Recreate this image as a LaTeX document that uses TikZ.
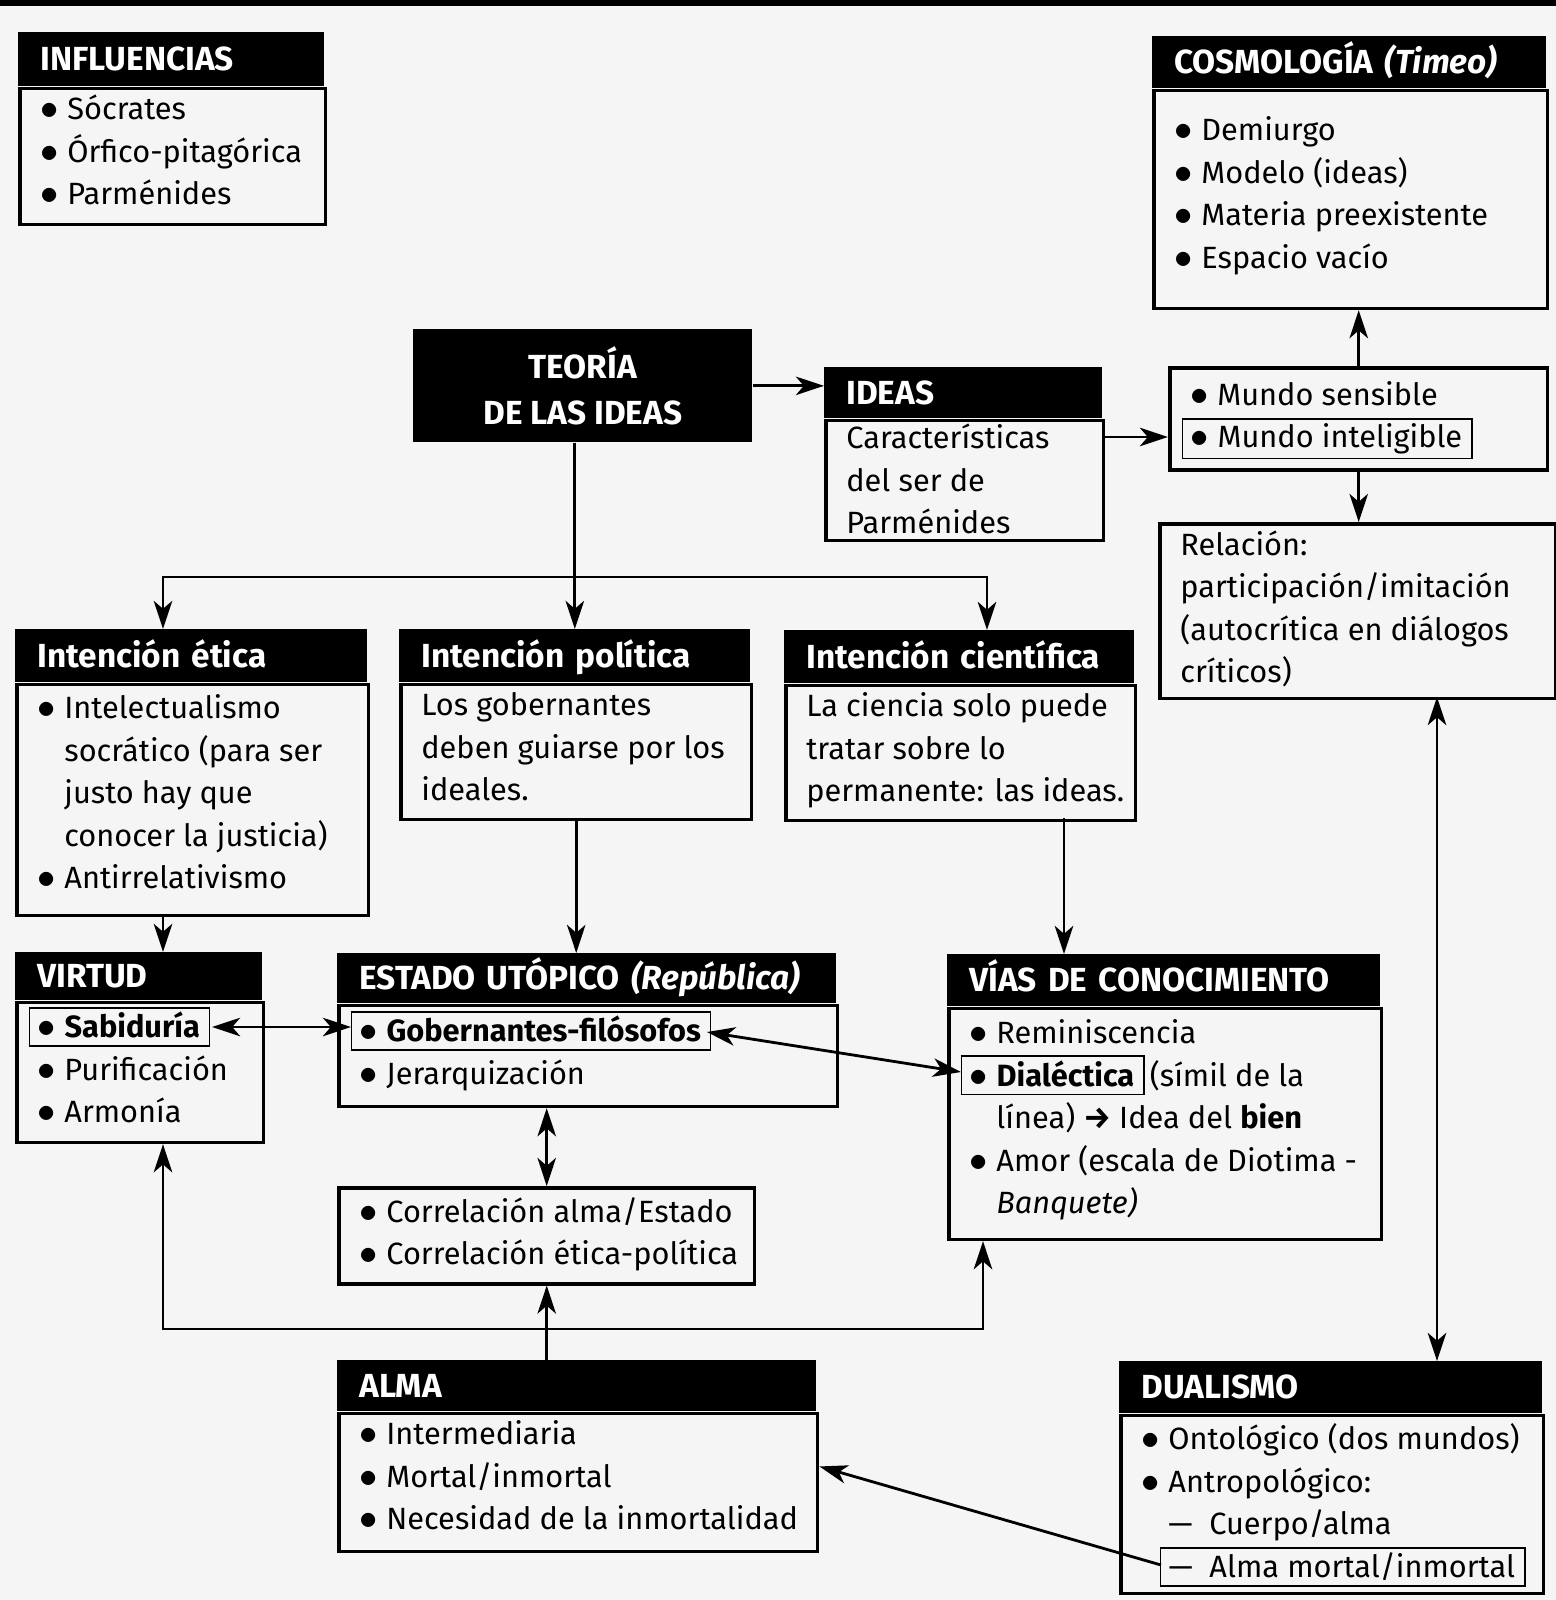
\documentclass[tikz,border=0pt]{standalone}
\usepackage{fontspec}
\setmainfont{Fira Sans}
\usetikzlibrary{arrows.meta}

\newcommand\bodyFont{\fontsize{17.5}{24.2}\selectfont}
\newcommand\titleFont{\fontsize{19}{26}\selectfont\bfseries}
\newcommand\bu{\makebox[0.88em][l]{\fontsize{22}{0}\selectfont$\bullet$}}
\newcommand\bl{\strut\bu}
\newcommand\hg{\strut\hspace*{0.88em}}
\newcommand\marked[1]{\strut\hspace*{-5pt}\smash{\fbox{\hspace*{2.1pt}\rule[-2.2pt]{0pt}{14.7pt}#1\hspace*{3pt}}}}
\setlength\fboxrule{1pt}
\setlength\fboxsep{2pt}

\begin{document}
\begin{tikzpicture}[x=0.02cm, y=-0.02cm,
    titleBar/.style={fill=black, text=white, anchor=north west, inner xsep=0.44cm, inner ysep=0pt, align=left, font=\titleFont, text height=13.1pt, text depth=0pt},
    frame/.style={draw, line width=2pt, anchor=north west, inner sep=0pt},
    textBlock/.style={anchor=north west, inner xsep=0.44cm, align=left, font=\bodyFont},
    link/.style={line width=1.6pt, -{Stealth[length=16pt, width=10.5pt, inset=4.5pt]}},
    dlink/.style={line width=1.6pt, {Stealth[length=16pt, width=10.5pt, inset=4.5pt]}-{Stealth[length=16pt, width=10.5pt, inset=4.5pt]}},
    bar/.style={line width=1.6pt, line cap=rect}]
    \def\conceptBox(#1)[#2,#3,#4,#5,#6,#7]#8#9{% Box with a black title bar. Arguments are name, x, y, width, title height, body height, text offset
        \node[titleBar, text width=#4cm-0.88cm, minimum height=#5cm] (#1Title) at (#2,#3) {#8};
        \node[frame, minimum width=#4cm, minimum height=#6cm] (#1) at (#1Title.south west) {};
        \node[textBlock, inner ysep=#7cm] (#1Text) at (#1.north west) {#9};
    }
    \def\plainBox(#1)[#2,#3,#4,#5,#6]#7{% Box without title. Arguments are name, x, y, width, height, text offset
        \node[frame, minimum width=#4cm, minimum height=#5cm] (#1) at (#2,#3) {};
        \node[textBlock, inner ysep=#6cm] (#1Text) at (#1.north west) {#7};
    }
    \useasboundingbox (0,0) rectangle (1556,1600);
    \fill[black!4] (0,0) rectangle (1556,1600);
    \fill (0,0) rectangle (1556,6);
    % Top row
    \conceptBox(influ)[18,32,6.12,1.08,2.72,0.06]{INFLUENCIAS}{\bl Sócrates\\ \bl Órfico-pitagórica\\ \bl Parménides}
    \conceptBox(cosmo)[1152,36,7.88,1.04,4.36,0.44]{COSMOLOGÍA \textit{(Timeo)}}{\bl Demiurgo\\ \bl Modelo (ideas)\\ \bl Materia preexistente\\ \bl Espacio vacío}
    \node[fill=black, text=white, anchor=north west, minimum width=6.78cm, minimum height=2.26cm, align=center, font=\titleFont] (teoria) at (413,329) {TEORÍA\\DE LAS IDEAS};
    \conceptBox(ideas)[824,367,5.56,1.02,2.40,0]{IDEAS}{\strut Características\\ del ser de\\ Parménides}
    \plainBox(mundo)[1168,366,7.56,2.04,0.18]{\bl Mundo sensible\\ \marked{\bu Mundo inteligible}}
    \plainBox(relac)[1158,522,7.92,3.50,0.06]{\strut Relación:\\ participación/imitación\\ (autocrítica en diálogos\\ críticos)}
    % Intentions
    \conceptBox(etica)[15,629,7.04,1.06,4.62,0.12]{Intención ética}{\bl Intelectualismo\\ \hg socrático (para ser\\ \hg justo hay que\\ \hg conocer la justicia)\\ \bl Antirrelativismo}
    \conceptBox(politica)[399,629,7.02,1.06,2.70,0.06]{Intención política}{\strut Los gobernantes\\ deben guiarse por los\\ ideales.}
    \conceptBox(cientifica)[784,630,7.00,1.06,2.70,0.06]{Intención científica}{\strut La ciencia solo puede\\ tratar sobre lo\\ permanente: las ideas.}
    % Second row
    \conceptBox(virtud)[15,952,4.94,0.96,2.80,0.14]{VIRTUD}{\marked{\bu\textbf{Sabiduría}}\\ \bl Purificación\\ \bl Armonía}
    \conceptBox(estado)[337,953,9.98,1.00,2.02,0.16]{ESTADO UTÓPICO \textit{(República)}}{\marked{\bu\textbf{Gobernantes-filósofos}}\\ \bl Jerarquización}
    \conceptBox(vias)[947,954,8.66,1.04,4.62,0.14]{VÍAS DE CONOCIMIENTO}{\bl Reminiscencia\\ \marked{\bu\textbf{Dialéctica}}\,(símil de la\\ \hg línea) \textbf{→} Idea del \textbf{bien}\\ \bl Amor (escala de Diotima -\\ \hg\textit{Banquete)}}
    \plainBox(correl)[337,1186,8.32,1.92,0.12]{\bl Correlación alma/Estado\\ \bl Correlación ética-política}
    % Bottom row
    \conceptBox(alma)[337,1360,9.58,1.02,2.76,0.06]{ALMA}{\bl Intermediaria\\ \bl Mortal/inmortal\\ \bl Necesidad de la inmortalidad}
    \conceptBox(dual)[1119,1361,8.46,1.04,3.56,0.12]{DUALISMO}{\bl Ontológico (dos mundos)\\ \bl Antropológico:\\ \hg\makebox[1.33em][l]{—}Cuerpo/alma\\ \hg\marked{\makebox[1.33em][l]{—}Alma mortal/inmortal}}
    % Ends on the framed items
    \coordinate (intelW) at (1182,437);
    \coordinate (sabiE) at (212,1027);
    \coordinate (goberW) at (351,1027);
    \coordinate (goberE) at (707,1032);
    \coordinate (dialW) at (961,1072);
    \coordinate (amortW) at (1161,1565);
    % Draw links from the theory of ideas
    \coordinate (branchL) at (163,577);
    \coordinate (branchR) at (987,577);
    \draw[bar] (branchL) -- (branchR);
    \draw[link] (teoria.east) -- (teoria.east -| ideasTitle.west);
    \draw[link] (teoria.south -| politicaTitle.north) -- (politicaTitle.north);
    \draw[link] (branchL) -- (branchL |- eticaTitle.north);
    \draw[link] (branchR) -- (branchR |- cientificaTitle.north);
    \draw[link] (ideas.east |- intelW) -- (mundo.west |- intelW);
    \draw[link] (mundo.north) -- (mundo.north |- cosmo.south);
    \draw[link] (mundo.south) -- (mundo.south |- relac.north);
    % Draw links down to the second row
    \coordinate (sciDown) at (1064,818);
    \draw[link] (etica.south -| branchL) -- (virtudTitle.north -| branchL);
    \draw[link] (politica.south) -- (politica.south |- estadoTitle.north);
    \draw[link] (sciDown) -- (sciDown |- viasTitle.north);
    \draw[dlink] (sabiE) -- (goberW);
    \draw[dlink] (goberE) -- (dialW);
    \draw[dlink] (estado.south -| correl.north) -- (correl.north);
    % Draw links from the soul and the dualism
    \coordinate (loopL) at (163,1329);
    \coordinate (loopR) at (983,1329);
    \draw[bar] (loopL) -- (loopR);
    \draw[link] (loopL) -- (loopL |- virtud.south);
    \draw[link] (loopR) -- (loopR |- vias.south);
    \draw[link] (almaTitle.north -| correl.south) -- (correl.south);
    \coordinate (relDual) at (1437,697);
    \draw[dlink] (relDual) -- (relDual |- dualTitle.north);
    \draw[link] (amortW) -- ([yshift=0.32cm]alma.east);
\end{tikzpicture}
\end{document}
